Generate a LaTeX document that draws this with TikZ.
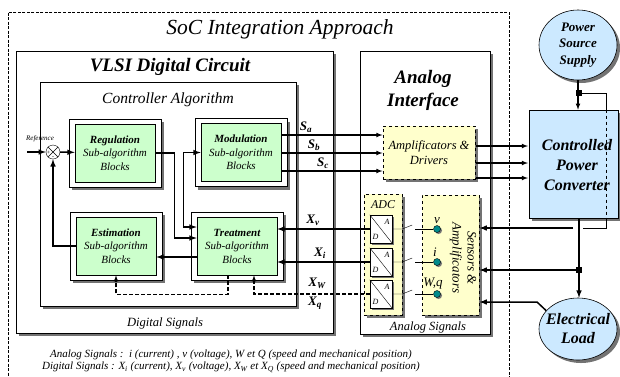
\documentclass[tikz,border=0pt]{standalone}
\usepackage{fontspec}
\setmainfont{Liberation Serif}
\usetikzlibrary{calc,shadows,shapes.geometric}

\definecolor{algogreen}{HTML}{CCFFCC}
\definecolor{anayellow}{HTML}{FFFFCC}
\definecolor{powblue}{HTML}{CCE9FF}
\definecolor{sensteal}{HTML}{008B8B}

\newcommand\sig[2]{\textbf{\textit{#1\textsubscript{#2}}}}

\begin{document}
\begin{tikzpicture}[x=1pt,y=-1pt,>=latex]
	\tikzstyle{boxshadow}=[drop shadow={shadow xshift=3pt,shadow yshift=-3pt,fill=black!55,opacity=1}]
	\tikzstyle{smallshadow}=[drop shadow={shadow xshift=1.5pt,shadow yshift=-1.5pt,fill=black!55,opacity=1}]
	\tikzstyle{frame}=[draw,semithick,fill=white,inner sep=0pt,boxshadow]
	\tikzstyle{outer}=[frame,minimum width=92pt,minimum height=68pt]
	\tikzstyle{subalgo}=[draw,semithick,fill=algogreen,minimum width=80pt,minimum height=58pt,inner sep=0pt,align=center,font=\fontsize{11}{13.5}\selectfont\itshape]
	\tikzstyle{analog}=[draw,line width=1pt,dashed,fill=anayellow,inner sep=0pt,boxshadow]
	\tikzstyle{power}=[draw,semithick,fill=powblue,inner sep=0pt,boxshadow]
	\tikzstyle{powtext}=[align=center,inner sep=0pt,font=\bfseries\itshape]
	\tikzstyle{sig}=[->,line width=1.5pt]
	\tikzstyle{line}=[->,line width=1.1pt]
	\tikzstyle{fb}=[->,line width=1.1pt,dash pattern=on 4pt off 2pt]
	\tikzstyle{junction}=[fill=black,minimum size=6pt,inner sep=0pt]

	\useasboundingbox (0,0) rectangle (620,376);

	% SoC frame
	\node[draw,thick,dash pattern=on 3pt off 1.5pt,minimum width=501pt,minimum height=370pt,inner sep=0pt] (soc) at (258.5,197) {};
	\node[font=\fontsize{21.5}{24}\selectfont\itshape] (soc-title) at (280,29) {SoC Integration Approach};

	% digital circuit
	\node[frame,minimum width=317pt,minimum height=282pt] (vlsi) at (174.5,192) {};
	\node[font=\fontsize{19}{22}\selectfont\bfseries\itshape] (vlsi-title) at (170,67) {VLSI Digital Circuit};
	\node[frame,minimum width=256pt,minimum height=224pt] (ctrl) at (168,194) {};
	\node[font=\fontsize{15.5}{18}\selectfont\itshape] (ctrl-title) at (168,100) {Controller Algorithm};
	\node[font=\fontsize{12.6}{15}\selectfont\itshape] (dig-label) at (165,323) {Digital Signals};

	\foreach \name/\x/\y in {reg/115/153, mod/241/152.5, est/116/246, treat/237/246}
	\node[outer] (F-\name) at (\x,\y) {};

	\foreach \name/\x/\y/\txt in {reg/115/153/Regulation, mod/241/152.5/Modulation, est/116/246/Estimation, treat/237/246/Treatment}
	\node[subalgo] (\name) at (\x,\y) {\textbf{\txt}\\Sub-algorithm\\Blocks};

	% comparator
	\node[draw,circle,fill=white,minimum size=14pt,inner sep=0pt] (sum) at (53,152) {};
	\draw (sum.45) -- (sum.225) (sum.135) -- (sum.-45);
	\node[font=\fontsize{6}{6}\selectfont,inner sep=0pt] (plus) at (48.5,153) {+};
	\node[font=\fontsize{6}{6}\selectfont,inner sep=0pt] (minus) at (53,157.5) {-};
	\node[font=\fontsize{7}{8}\selectfont\itshape] (ref-label) at (40,139) {Reference};
	\coordinate (ref-in) at (27,152);

	\draw[sig] (ref-in) -- (sum);
	\draw[sig] (sum) -- (reg);
	\draw[sig] (est.west) -| (sum.south);
	\draw[sig] (reg.east) -- ++(19,0) |- ($(treat.west)+(0,-8)$);
	\draw[sig,<->] (mod.west) -- ++(-17,0) |- ($(treat.west)+(0,-19)$);
	\draw[sig] ($(treat.west)+(0,11)$) -- ($(est.east)+(0,11)$);
	\draw[fb] ($(treat.south)+(-9,0)$) -- ++(0,19) -| (est.south);

	% analog interface
	\node[frame,minimum width=130pt,minimum height=283pt] (ana) at (425,192.5) {};
	\node[align=center,font=\fontsize{19}{23}\selectfont\bfseries\itshape] (ana-title) at (423,90) {Analog\\Interface};
	\node[font=\fontsize{12.5}{15}\selectfont\itshape] (ana-label) at (428,327) {Analog Signals};
	\node[analog,minimum width=92pt,minimum height=53pt,align=center,font=\fontsize{12.5}{15}\selectfont\itshape] (amp) at (429,152.5) {Amplificators \&\\Drivers};
	\node[analog,minimum width=38pt,minimum height=121pt] (adc) at (383,254.5) {};
	\node[font=\fontsize{12}{14}\selectfont\itshape] (adc-label) at (383,205) {ADC};
	\node[analog,minimum width=57pt,minimum height=120pt] (sens) at (450.5,255) {};
	\node[rotate=-90,align=center,font=\fontsize{13}{15}\selectfont\itshape] (sens-label) at (463,258) {Sensors \&\\Amplificators};

	\foreach \n/\y in {1/229, 2/262, 3/294}
	\node[draw,fill=white,minimum width=22pt,minimum height=28pt,inner sep=0pt,smallshadow] (AD-\n) at (381,\y) {};
	\foreach \n in {1,2,3}
	\draw (AD-\n.north west) -- (AD-\n.south east);
	\foreach \n/\y in {1/229, 2/262, 3/294}
	\node[font=\fontsize{8}{9}\selectfont\itshape,inner sep=0pt] (A-\n) at (387,\y-7) {A};
	\foreach \n/\y in {1/229, 2/262, 3/294}
	\node[font=\fontsize{8}{9}\selectfont\itshape,inner sep=0pt] (D-\n) at (375.5,\y+8) {D};

	\foreach \n/\y in {1/229, 2/262, 3/294}
	\node[circle,draw,fill=sensteal,minimum size=7pt,inner sep=0pt,smallshadow] (S-\n) at (437,\y) {};
	\foreach \n/\x/\y/\q in {1/437/225/v, 2/435/258/i, 3/433/290/{W,q}}
	\node[anchor=south,inner sep=1pt,font=\fontsize{13}{15}\selectfont\itshape] (Q-\n) at (\x,\y) {\q};

	% switches
	\foreach \n in {1,2,3}
	\draw (AD-\n.east) -- ++(10,0) -- ++(10,-4);
	\foreach \n in {1,2,3}
	\draw (S-\n.west) -- ++(-18.5,0);

	% signals
	\foreach \y in {135,153,171}
	\draw[line] (mod.east |- 0,\y) -- (amp.west |- 0,\y);
	\foreach \y in {146,163,178}
	\draw[line] (amp.east |- 0,\y) -- (528,\y);
	\draw[sig] (AD-1.west) -- (treat.east |- AD-1.west);
	\draw[sig] (AD-2.west) -- (treat.east |- AD-2.west);
	\draw[fb] (AD-3.west) -| ($(treat.south)+(17,0)$);

	\foreach \name/\x/\y/\txt in {Sa/306/127/{\sig{S}{a}}, Sb/314/145/{\sig{S}{b}}, Sc/323/163/{\sig{S}{c}}, Xv/313/220/{\sig{X}{v}}, Xi/320/253/{\sig{X}{i}}, XW/317/283/{\sig{X}{W}}, Xq/315/303/{\sig{X}{q}}}
	\node[font=\fontsize{13}{15}\selectfont] (L-\name) at (\x,\y) {\txt};

	% power part
	\node[power,ellipse,minimum width=78pt,minimum height=70pt] (supply) at (578,45) {};
	\node[powtext,font=\fontsize{13}{16.5}\selectfont\bfseries\itshape] (supply-text) at (supply) {Power\\Source\\Supply};
	\node[power,minimum width=89pt,minimum height=108pt] (conv) at (573.5,164) {};
	\node[powtext,font=\fontsize{16}{20}\selectfont\bfseries\itshape] (conv-text) at (577,165) {Controlled\\Power\\Converter};
	\node[power,ellipse,minimum width=78pt,minimum height=62pt] (load) at (578,329) {};
	\node[powtext,font=\fontsize{16}{19}\selectfont\bfseries\itshape] (load-text) at (load) {Electrical\\Load};

	\node[junction] (J-top) at (579,93) {};
	\node[junction] (J-bot) at (579,270) {};
	\coordinate (fb-top) at ($(conv.north east)+(-12,0)$);
	\coordinate (fb-bot) at ($(conv.south east)+(-12,0)$);
	\coordinate (V-out) at (573,228);

	\draw[line] (supply.south) -- (supply.south |- conv.north);
	\draw[thick] (J-top) -| (fb-top);
	\draw[thin,dashed] (fb-top) -- (fb-bot);
	\draw[thick] (fb-bot) -- ++(0,10) -- ++(-23,0);
	\draw[sig] (J-bot |- conv.south) -- (J-bot |- load.north);
	\draw[sig] (V-out) -- (sens.east |- V-out);
	\draw[sig] (J-bot) -- (sens.east |- J-bot);
	\draw[sig] (load.150) -- (537,302) -- (sens.east |- 0,302);

	% legend
	\node[align=center,font=\fontsize{11}{12}\selectfont\itshape] (legend) at (231,361) {Analog Signals :\ \ i (current) , v (voltage), W et Q (speed and mechanical position)\\Digital Signals : X\textsubscript{i} (current), X\textsubscript{v} (voltage), X\textsubscript{W} et X\textsubscript{Q} (speed and mechanical position)};
\end{tikzpicture}
\end{document}
